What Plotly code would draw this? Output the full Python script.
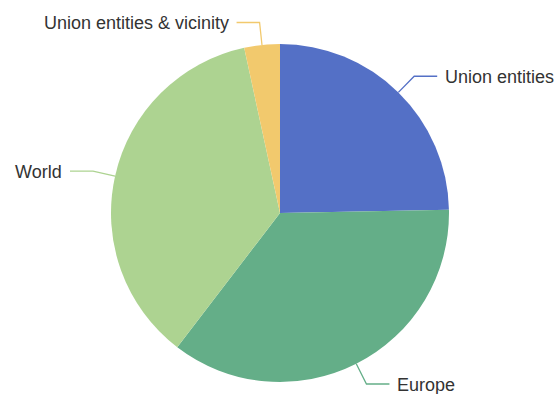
import math
import plotly.graph_objects as go

# Share of each category (percent)
categories = ["Union entities", "Europe", "World", "Union entities & vicinity"]
values = [24.7, 35.7, 36.2, 3.4]
colors = ["#5470c6", "#64ae88", "#add391", "#f2c96d"]

W, H = 554, 394
CX, CY, R = 280, 213, 169          # pie centre and radius in pixels
LEN1, LEN2, GAP = 22.6, 23, 7      # leader line segments and text gap

fig = go.Figure()
fig.add_trace(go.Pie(
    labels=categories,
    values=values,
    sort=False,
    direction="clockwise",
    rotation=0,
    marker=dict(colors=colors, line=dict(width=0)),
    textinfo="none",
    hoverinfo="label+percent",
    showlegend=False,
    domain=dict(x=[(CX - R) / W, (CX + R) / W],
                y=[(H - CY - R) / H, (H - CY + R) / H]),
))


def px(x):
    return x / W


def py(y):
    return 1 - y / H


shapes, annotations = [], []
total = sum(values)
start = 0.0
for name, v, c in zip(categories, values, colors):
    span = v / total * 360
    mid = math.radians(start + span / 2)
    start += span
    sx, sy = math.sin(mid), -math.cos(mid)
    x0, y0 = CX + R * sx, CY + R * sy
    x1, y1 = CX + (R + LEN1) * sx, CY + (R + LEN1) * sy
    side = 1 if sx >= 0 else -1
    x2 = x1 + side * LEN2
    shapes.append(dict(
        type="path",
        path=f"M {px(x0)},{py(y0)} L {px(x1)},{py(y1)} L {px(x2)},{py(y1)}",
        xref="paper", yref="paper",
        line=dict(color=c, width=1.3),
    ))
    annotations.append(dict(
        x=px(x2 + side * GAP), y=py(y1 + 1), xref="paper", yref="paper",
        text=name, showarrow=False,
        xanchor="left" if side > 0 else "right", yanchor="middle",
        font=dict(family="Liberation Sans, Arial, sans-serif", size=18, color="#333333"),
        borderpad=0,
    ))

fig.update_layout(
    width=W, height=H,
    margin=dict(l=0, r=0, t=0, b=0),
    paper_bgcolor="white",
    plot_bgcolor="white",
    shapes=shapes,
    annotations=annotations,
)

fig.write_html("out.html")
